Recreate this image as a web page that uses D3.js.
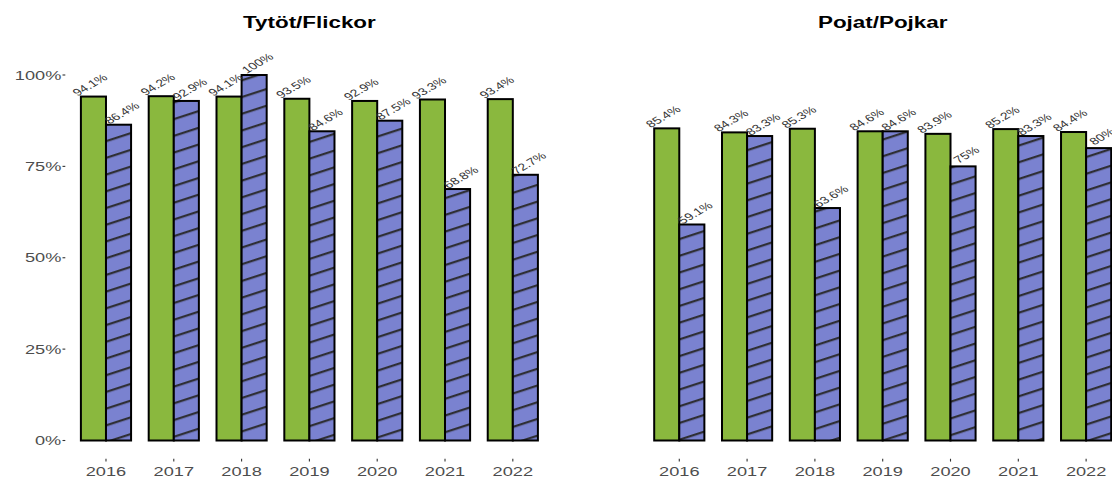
<!DOCTYPE html>
<html>
<head>
<meta charset="utf-8">
<script src="https://cdn.jsdelivr.net/npm/d3@7"></script>
<style>
  html, body { margin: 0; padding: 0; background: #fff; }
  svg { display: block; font-family: "Liberation Sans", Arial, sans-serif; }
</style>
</head>
<body>
<svg id="chart" width="1112" height="482"></svg>
<script>
// Years shown on the x axis
const years = ["2016", "2017", "2018", "2019", "2020", "2021", "2022"];

// Panel titles
const panelTitles = ["Tytöt/Flickor", "Pojat/Pojkar"];

// Girls (percent)
const girlsSolid = [94.1, 94.2, 94.1, 93.5, 92.9, 93.3, 93.4];
const girlsHatched = [86.4, 92.9, 100, 84.6, 87.5, 68.8, 72.7];

// Boys (percent)
const boysSolid = [85.4, 84.3, 85.3, 84.6, 83.9, 85.2, 84.4];
const boysHatched = [59.1, 83.3, 63.6, 84.6, 75, 83.3, 80];

// Y axis ticks (percent)
const yTicks = [0, 25, 50, 75, 100];

const panels = [
  { title: panelTitles[0], solid: girlsSolid, hatched: girlsHatched, x0: 65.3, x1: 553.5, yAxis: true },
  { title: panelTitles[1], solid: boysSolid, hatched: boysHatched, x0: 638.6, x1: 1126.8, yAxis: false }
];

const GREEN = "#8ab83e";
const BLUE = "#7a82d0";
const TEXT_SX = 1.4;   // horizontal text stretch

const svg = d3.select("#chart");

// Diagonal stripe fill for the second series
const defs = svg.append("defs");
const pat = defs.append("pattern")
  .attr("id", "stripes")
  .attr("patternUnits", "userSpaceOnUse")
  .attr("width", 40)
  .attr("height", 15.9)
  .attr("patternTransform", "rotate(-18)");
pat.append("rect").attr("width", 40).attr("height", 15.9).attr("fill", BLUE);
pat.append("line")
  .attr("x1", 0).attr("x2", 40)
  .attr("y1", 8).attr("y2", 8)
  .attr("stroke", "#2f2f35")
  .attr("stroke-width", 2.3);

const y = d3.scaleLinear().domain([0, 100]).range([440.5, 75]);
const panelBottom = y(-5);

panels.forEach(p => {
  const x = d3.scaleBand()
    .domain(years)
    .range([p.x0, p.x1])
    .paddingOuter(0.6 / 1.2)  // keep 0.6 category units of space on both ends
    .paddingInner(0);
  // scaleBand outer padding is in units of step; recompute so centers sit 0.6 steps from edges
  const step = (p.x1 - p.x0) / (years.length + 0.2);
  const center = yr => p.x0 + step * (0.6 + years.indexOf(yr));
  const barW = step * 0.37;

  const g = svg.append("g");

  // Title
  g.append("text")
    .attr("transform", `translate(${(p.x0 + p.x1) / 2},28) scale(${TEXT_SX},1)`)
    .attr("text-anchor", "middle")
    .attr("font-weight", "bold")
    .attr("font-size", 16)
    .attr("fill", "#000")
    .text(p.title);

  // Y axis ticks and labels
  if (p.yAxis) {
    const ya = g.append("g");
    yTicks.forEach(t => {
      ya.append("line")
        .attr("x1", p.x0 - 2.8).attr("x2", p.x0)
        .attr("y1", y(t)).attr("y2", y(t))
        .attr("stroke", "#333").attr("stroke-width", 1.1);
      ya.append("text")
        .attr("transform", `translate(${p.x0 - 4},${y(t)}) scale(${TEXT_SX},1)`)
        .attr("text-anchor", "end")
        .attr("dy", "0.36em")
        .attr("font-size", 13)
        .attr("fill", "#4d4d4d")
        .text(t + "%");
    });
  }

  // X axis ticks and labels
  years.forEach(yr => {
    const cx = center(yr);
    g.append("line")
      .attr("x1", cx).attr("x2", cx)
      .attr("y1", panelBottom).attr("y2", panelBottom + 2.8)
      .attr("stroke", "#333").attr("stroke-width", 1.1);
    g.append("text")
      .attr("transform", `translate(${cx},476) scale(${TEXT_SX},1)`)
      .attr("text-anchor", "middle")
      .attr("font-size", 13)
      .attr("fill", "#4d4d4d")
      .text(yr);
  });

  // Bars
  const rows = years.map((yr, i) => ({ yr, solid: p.solid[i], hatched: p.hatched[i] }));

  g.selectAll("rect.solid").data(rows).join("rect")
    .attr("class", "solid")
    .attr("x", d => center(d.yr) - barW)
    .attr("width", barW)
    .attr("y", d => y(d.solid))
    .attr("height", d => y(0) - y(d.solid))
    .attr("fill", GREEN)
    .attr("stroke", "#000")
    .attr("stroke-width", 2);

  g.selectAll("rect.hatched").data(rows).join("rect")
    .attr("class", "hatched")
    .attr("x", d => center(d.yr))
    .attr("width", barW)
    .attr("y", d => y(d.hatched))
    .attr("height", d => y(0) - y(d.hatched))
    .attr("fill", "url(#stripes)")
    .attr("stroke", "#000")
    .attr("stroke-width", 2);

  // Value labels
  const label = (v, dx) => ({ v, dx });
  rows.forEach(d => {
    [label(d.solid, -13), label(d.hatched, 19)].forEach(l => {
      g.append("text")
        .attr("transform", `translate(${center(d.yr) + l.dx},${y(l.v) - 9}) scale(${TEXT_SX},1) rotate(-39)`)
        .attr("text-anchor", "middle")
        .attr("font-size", 10)
        .attr("fill", "#333")
        .text(l.v + "%");
    });
  });
});
</script>
</body>
</html>
